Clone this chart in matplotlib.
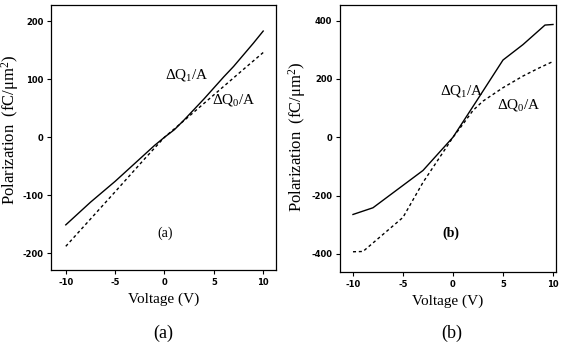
import matplotlib

matplotlib.use("Agg")

import matplotlib.pyplot as plt

plt.rcParams["mathtext.fontset"] = "custom"
plt.rcParams["mathtext.rm"] = "Liberation Serif"
plt.rcParams["mathtext.it"] = "Liberation Serif:italic"

# panel (a)
volt_a_q1 = [-10, -7.5, -5, -3, -1, 0, 1, 2, 3, 4, 5, 6, 7, 8, 9, 10]
pol_a_q1 = [-151, -112, -76, -45, -14, 0, 13, 30, 48, 66, 85, 104, 122, 142, 162, 183]
volt_a_q0 = [-10, -5, -2, 0, 2, 5, 8, 10]
pol_a_q0 = [-188, -94, -37, 0, 29, 73, 117, 146]

# panel (b)
volt_b_q1 = [-10, -8, -3, 0, 2.5, 5, 7, 9.2, 10]
pol_b_q1 = [-265, -242, -114, 0, 132, 265, 318, 385, 387]
volt_b_q0 = [-10, -9, -5, -3, -1, 0, 1, 2, 3, 5, 7, 8.5, 10]
pol_b_q0 = [-393, -392, -275, -155, -52, 0, 45, 92, 124, 170, 210, 236, 260]

x_ticks = [-10, -5, 0, 5, 10]
y_ticks_a = [-200, -100, 0, 100, 200]
y_ticks_b = [-400, -200, 0, 200, 400]

SERIF = "Liberation Serif"
TICK_FONT = {"family": "Liberation Sans Narrow", "weight": "bold", "size": 6}


def style_axes(ax, yticks):
    ax.set_xticks(x_ticks)
    ax.set_yticks(yticks)
    ax.set_xticklabels([str(t) for t in x_ticks], fontdict=TICK_FONT)
    ax.set_yticklabels([str(t) for t in yticks], fontdict=TICK_FONT)
    ax.tick_params(direction="out", length=3, width=0.8, pad=2.5)
    for spine in ax.spines.values():
        spine.set_linewidth(0.9)
    ax.set_xlabel("Voltage (V)", fontfamily=SERIF, fontsize=11, labelpad=4)
    ax.set_ylabel("Polarization  (fC/μm$^2$)", fontfamily=SERIF, fontsize=12)


fig = plt.figure(figsize=(5.64, 3.54), dpi=100)

ax_a = fig.add_axes([0.0904, 0.237, 0.399, 0.749])
ax_a.plot(volt_a_q1, pol_a_q1, color="black", lw=1.0)
ax_a.plot(volt_a_q0, pol_a_q0, color="black", lw=1.0, ls=(0, (2.2, 2.0)))
ax_a.set_xlim(-11.5, 11.3)
ax_a.set_ylim(-229, 228)
style_axes(ax_a, y_ticks_a)
ax_a.yaxis.set_label_coords(-0.132, 0.53)
ax_a.text(2.3, 108, "ΔQ$_1$/A", ha="center", va="center", fontfamily=SERIF, fontsize=11)
ax_a.text(7.0, 65, "ΔQ$_0$/A", ha="center", va="center", fontfamily=SERIF, fontsize=11)
ax_a.text(0.1, -165, "(a)", ha="center", va="center", fontfamily=SERIF, fontsize=10)

ax_b = fig.add_axes([0.6028, 0.232, 0.383, 0.754])
ax_b.plot(volt_b_q1, pol_b_q1, color="black", lw=1.0)
ax_b.plot(volt_b_q0, pol_b_q0, color="black", lw=1.0, ls=(0, (2.2, 2.0)))
ax_b.set_xlim(-11.3, 10.3)
ax_b.set_ylim(-462, 454)
style_axes(ax_b, y_ticks_b)
ax_b.yaxis.set_label_coords(-0.15, 0.505)
ax_b.text(0.9, 160, "ΔQ$_1$/A", ha="center", va="center", fontfamily=SERIF, fontsize=11)
ax_b.text(6.6, 112, "ΔQ$_0$/A", ha="center", va="center", fontfamily=SERIF, fontsize=11)
ax_b.text(-0.2, -331, "(b)", ha="center", va="center", fontfamily=SERIF, fontsize=10,
          fontweight="bold")

fig.text(163 / 564, 1 - 333 / 354, "(a)", ha="center", va="center", fontfamily=SERIF, fontsize=13)
fig.text(452 / 564, 1 - 333 / 354, "(b)", ha="center", va="center", fontfamily=SERIF, fontsize=13)

fig.savefig("out.png", dpi=100)
